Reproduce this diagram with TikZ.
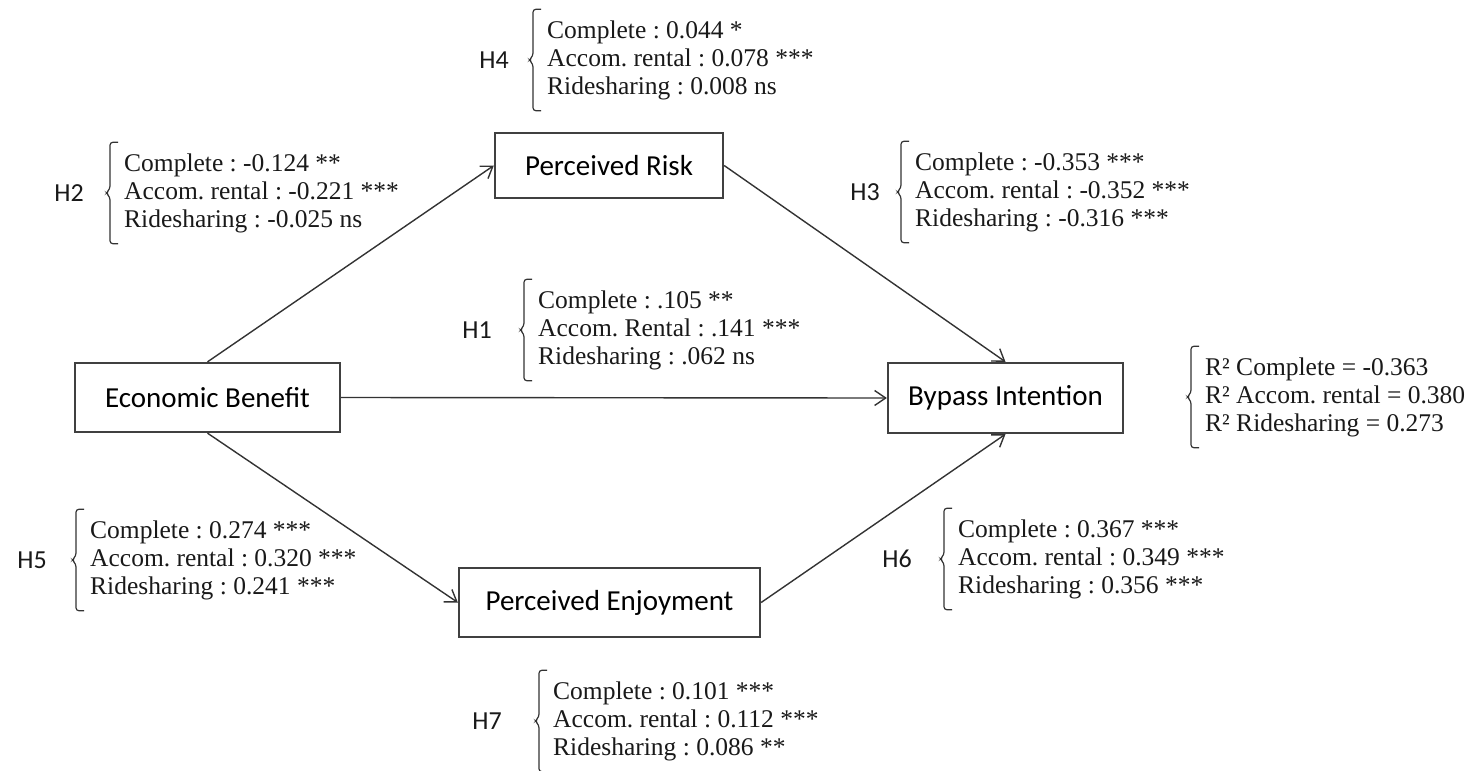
\documentclass[tikz,border=0pt]{standalone}
\usepackage{fontspec}
\setmainfont{Liberation Serif}
\newfontfamily\boxfont{Carlito}
\usetikzlibrary{arrows.meta, positioning}
\frenchspacing

% square bracket with a small tick, on the left of a text block
\newcommand{\hookbrace}[1]{%
    \draw[brk] ([xshift=-6pt]#1.north west) -- ([xshift=-14pt]#1.north west)
        -- ([xshift=-14pt, yshift=4pt]#1.west) -- ([xshift=-18pt]#1.west)
        -- ([xshift=-14pt, yshift=-4pt]#1.west) -- ([xshift=-14pt]#1.south west)
        -- ([xshift=-6pt]#1.south west);}

\begin{document}
\begin{tikzpicture}[x=1pt, y=-1pt,
        construct/.style={draw=black!75, line width=2.3pt, inner sep=0pt, font=\boxfont\fontsize{29}{34}\selectfont},
        link/.style={->, draw=black!80, line width=1.4pt},
        coef/.style={anchor=west, align=left, inner xsep=0pt, inner ysep=11pt, text=black!90, font=\fontsize{25.5}{28}\selectfont},
        hyp/.style={inner sep=0pt, text=black!90, font=\boxfont\fontsize{26}{30}\selectfont},
        brk/.style={draw=black!80, line width=1.2pt, rounded corners=3pt},
        >={Straight Barb[length=11pt, width=15pt]}]

        \useasboundingbox (0,0) rectangle (1470,771);

        % constructs
        \node[construct, minimum width=228pt, minimum height=65pt] (risk) at (609,165.5) {Perceived Risk};
        \node[construct, minimum width=265pt, minimum height=69pt] (benefit) at (207.5,397.5) {Economic Benefit};
        \node[construct, minimum width=235pt, minimum height=70pt] (bypass) at (1005.5,398) {Bypass Intention};
        \node[construct, minimum width=301pt, minimum height=69pt] (enjoy) at (609.5,602.5) {Perceived Enjoyment};

        \draw[link] (benefit.north) -- (risk.west);
        \draw[link] (risk.east) -- (bypass.north);
        \draw[link] (benefit.east) -- (bypass.west);
        \draw[link] (benefit.south) -- (enjoy.west);
        \draw[link] (enjoy.east) -- (bypass.south);

        % coefficients
        \node[coef] (t4) at (547,60) {Complete : 0.044 *\\Accom. rental : 0.078 ***\\Ridesharing : 0.008 ns};
        \node[coef] (t2) at (124,193) {Complete : -0.124 **\\Accom. rental : -0.221 ***\\Ridesharing : -0.025 ns};
        \node[coef] (t3) at (915,192) {Complete : -0.353 ***\\Accom. rental : -0.352 ***\\Ridesharing : -0.316 ***};
        \node[coef] (t1) at (538,330) {Complete : .105 **\\Accom. Rental : .141 ***\\Ridesharing : .062 ns};
        \node[coef] (tr) at (1205,397) {R² Complete = -0.363\\R² Accom. rental = 0.380\\R² Ridesharing = 0.273};
        \node[coef] (t5) at (90,560) {Complete : 0.274 ***\\Accom. rental : 0.320 ***\\Ridesharing : 0.241 ***};
        \node[coef] (t6) at (958,559) {Complete : 0.367 ***\\Accom. rental : 0.349 ***\\Ridesharing : 0.356 ***};
        \node[coef] (t7) at (553,721) {Complete : 0.101 ***\\Accom. rental : 0.112 ***\\Ridesharing : 0.086 **};

        \hookbrace{t4}
        \hookbrace{t2}
        \hookbrace{t3}
        \hookbrace{t1}
        \hookbrace{tr}
        \hookbrace{t5}
        \hookbrace{t6}
        \hookbrace{t7}

        % hypothesis labels
        \node[hyp, left=38pt of t4] (h4) {H4};
        \node[hyp, left=40pt of t2] (h2) {H2};
        \node[hyp, left=35pt of t3] (h3) {H3};
        \node[hyp, left=46pt of t1] (h1) {H1};
        \node[hyp, left=43pt of t5] (h5) {H5};
        \node[hyp, left=46pt of t6] (h6) {H6};
        \node[hyp, left=51pt of t7] (h7) {H7};

\end{tikzpicture}
\end{document}
